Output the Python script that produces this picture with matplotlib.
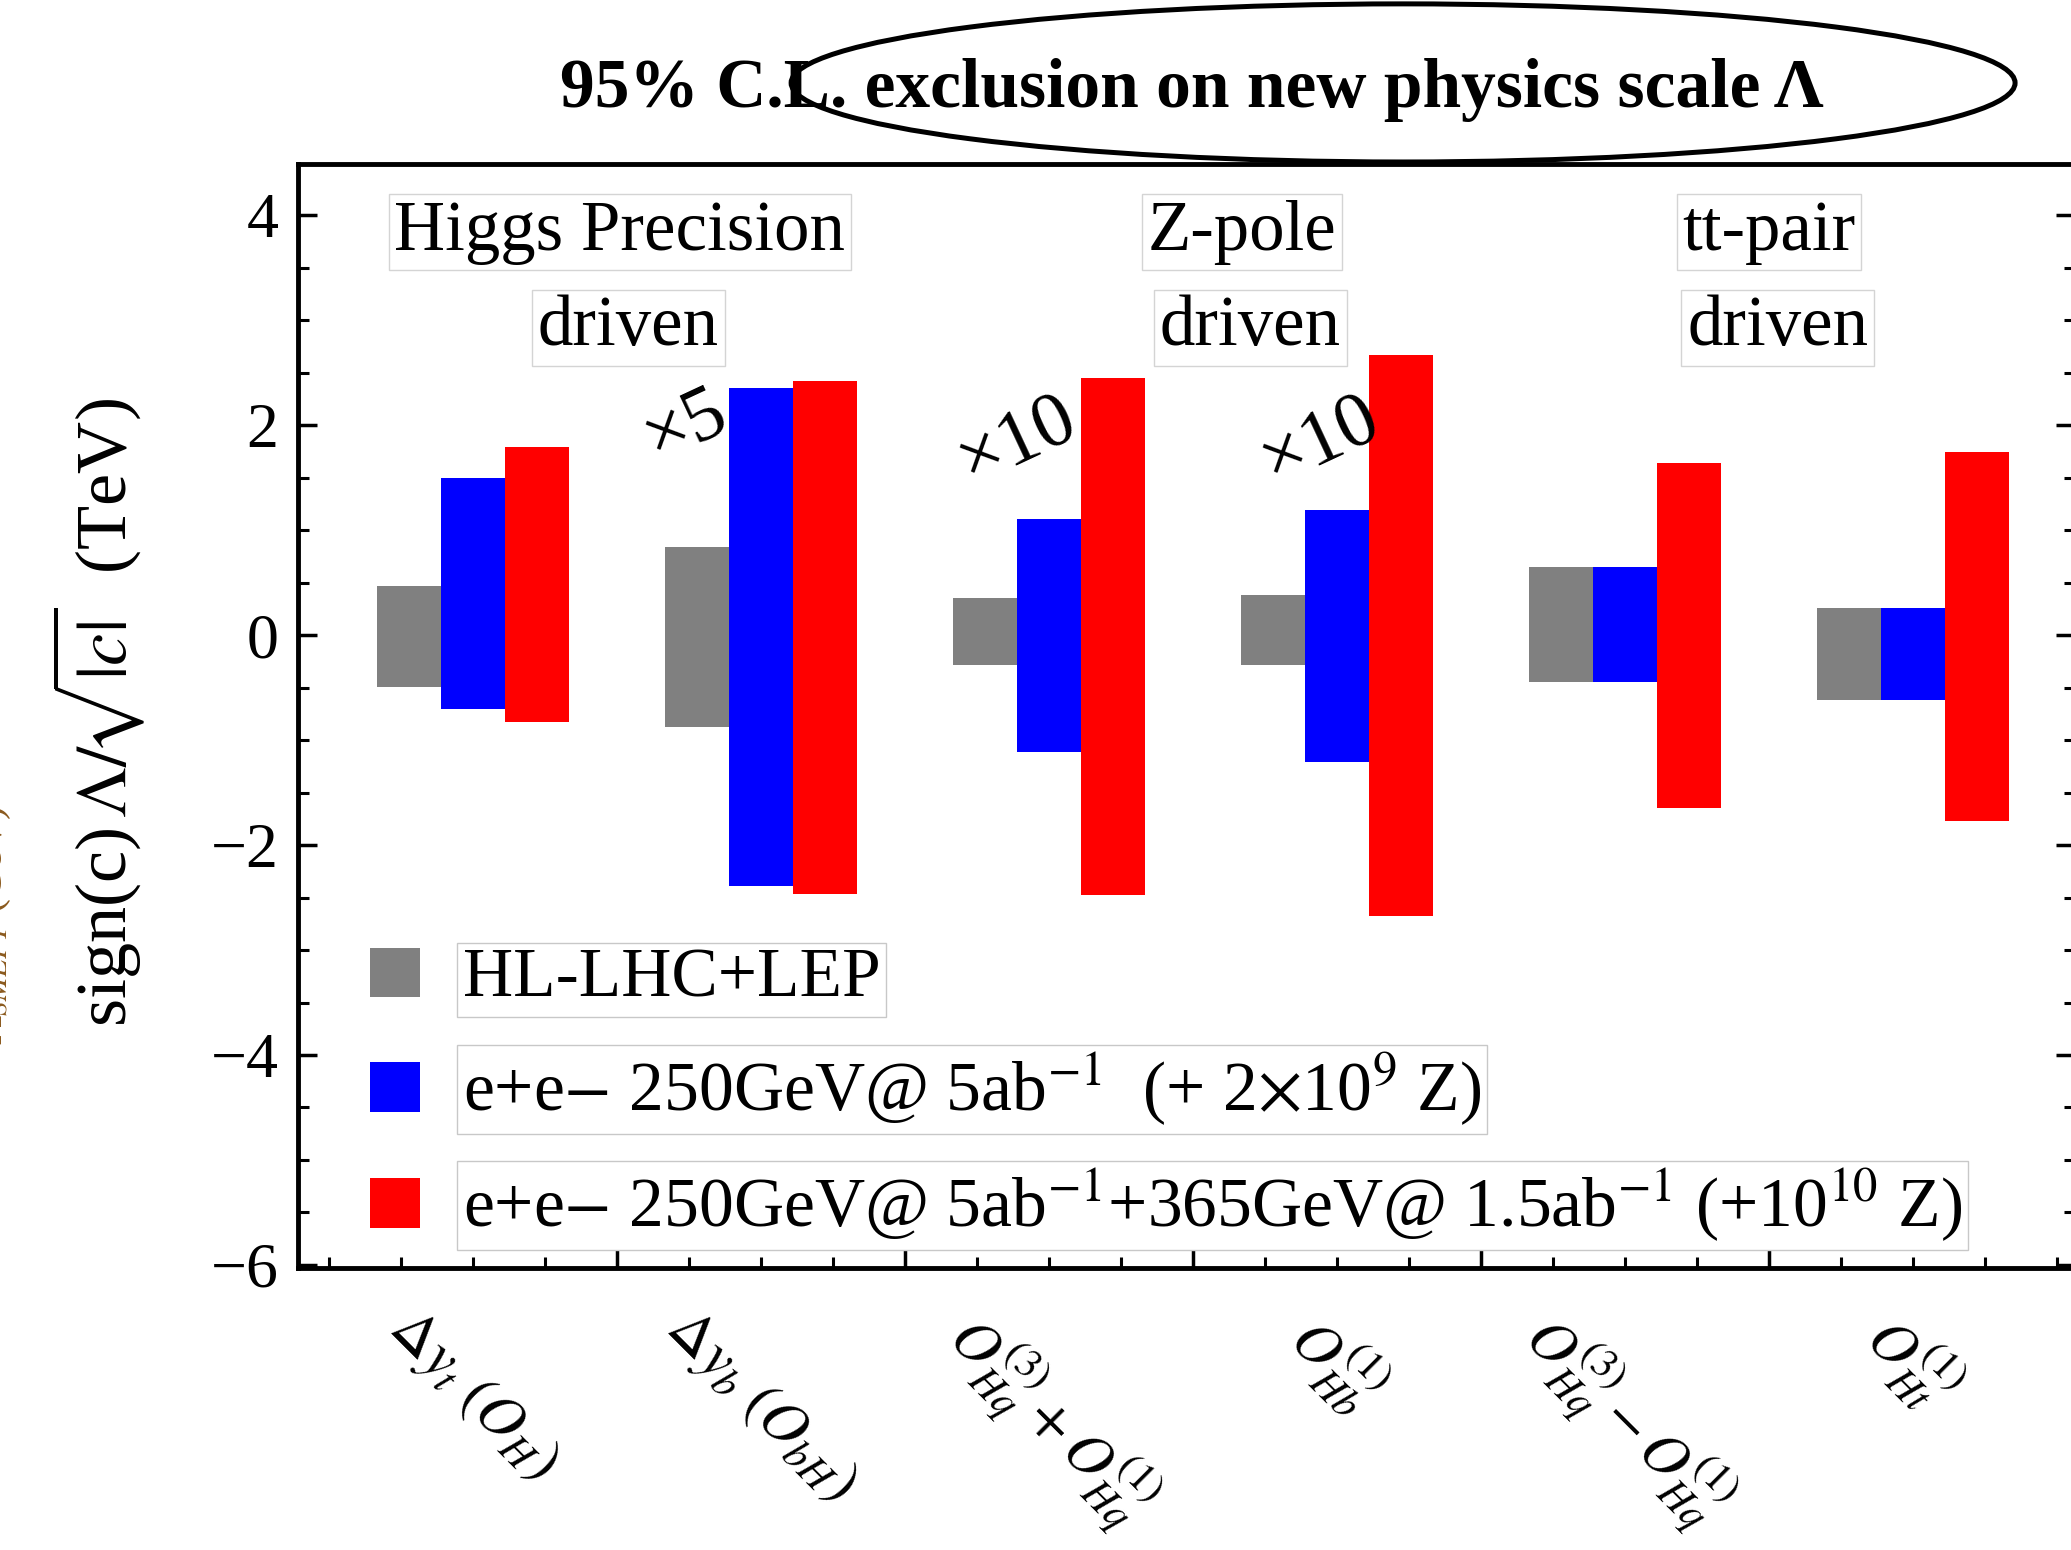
import matplotlib
matplotlib.use("Agg")
import matplotlib.pyplot as plt
from matplotlib.patches import Ellipse
from matplotlib.ticker import MultipleLocator, FixedLocator
import numpy as np

plt.rcParams['font.family'] = ['Liberation Serif', 'DejaVu Serif']
plt.rcParams['mathtext.fontset'] = 'stix'

# operators on the x axis
labels = [r'$\Delta y_t\ (O_H)$',
          r'$\Delta y_b\ (O_{bH})$',
          r'$O_{Hq}^{(3)}+O_{Hq}^{(1)}$',
          r'$O_{Hb}^{(1)}$',
          r'$O_{Hq}^{(3)}-O_{Hq}^{(1)}$',
          r'$O_{Ht}^{(1)}$']

# upper / lower reach of each scenario (TeV)
hl_up = [0.47, 0.84, 0.35, 0.38, 0.65, 0.26]
hl_lo = [-0.49, -0.87, -0.28, -0.28, -0.45, -0.62]
ee250_up = [1.50, 2.36, 1.11, 1.19, 0.65, 0.26]
ee250_lo = [-0.70, -2.39, -1.11, -1.21, -0.45, -0.62]
ee365_up = [1.79, 2.42, 2.45, 2.67, 1.64, 1.75]
ee365_lo = [-0.83, -2.47, -2.48, -2.68, -1.65, -1.77]

series_names = ['HL-LHC+LEP',
                r'e+e$-$ 250GeV@ 5ab$^{-1}$  (+ 2$\times$10$^{9}$ Z)',
                r'e+e$-$ 250GeV@ 5ab$^{-1}$+365GeV@ 1.5ab$^{-1}$ (+10$^{10}$ Z)']
colors = ['#808080', '#0000ff', '#ff0000']

groups = ['Higgs Precision\ndriven', 'Z-pole\ndriven', 'tt-pair\ndriven']
scales = ['×5', '×10', '×10']

fig = plt.figure(figsize=(20.71, 15.5), dpi=100)
ax = fig.add_axes([0.1439, 0.1819, 1.002 - 0.1439, 0.8942 - 0.1819])

x = np.arange(1, len(labels) + 1)
w = 0.222
for off, up, lo, c, name in zip([-w, 0, w],
                                [hl_up, ee250_up, ee365_up],
                                [hl_lo, ee250_lo, ee365_lo],
                                colors, series_names):
    ax.bar(x + off, np.array(up) - np.array(lo), bottom=lo, width=w,
           color=c, linewidth=0, label=name)

ax.set_xlim(0.393, 6.563)
ax.set_ylim(-6.03, 4.49)

for s in ['left', 'bottom', 'top', 'right']:
    ax.spines[s].set_linewidth(3.5)

ax.yaxis.set_major_locator(MultipleLocator(2))
ax.yaxis.set_minor_locator(MultipleLocator(0.5))
ax.xaxis.set_major_locator(FixedLocator(np.arange(1.5, 6.0, 1.0)))
ax.xaxis.set_minor_locator(MultipleLocator(0.25))
ax.tick_params(axis='both', which='major', direction='in', length=14, width=2.5)
ax.tick_params(axis='both', which='minor', direction='in', length=8, width=2.2)
ax.tick_params(axis='y', which='both', right=True, labelsize=46, pad=14)
ax.tick_params(axis='x', which='both', labelbottom=False)

# category labels, rotated under each group
for xi, lab in zip(x, labels):
    ax.text(xi, -6.33, lab, rotation=-45, ha='center', va='top', fontsize=43)

ax.set_ylabel(r'sign(c)$\,\Lambda/\!\sqrt{|c|}$  (TeV)', fontsize=52)
ax.yaxis.set_label_coords(-0.085, 0.503)

# group annotations
for gx, txt in zip([1.51, 3.67, 5.50], groups):
    l1, l2 = txt.split('\n')
    box = dict(boxstyle='square,pad=0.08', facecolor='white', edgecolor='#d4d4d4', linewidth=1)
    ax.text(gx, 3.84, l1, ha='center', va='center', fontsize=51, bbox=box)
    ax.text(gx + 0.03, 2.93, l2, ha='center', va='center', fontsize=51, bbox=box)

for sx, sy, s in zip([1.74, 2.89, 3.945], [2.0, 1.86, 1.86], scales):
    ax.text(sx, sy, s, rotation=25, ha='center', va='center', fontsize=56)

leg = ax.legend(loc='upper left', bbox_to_anchor=(0.0404, 0.29), frameon=False,
                fontsize=50, handlelength=0.72, handleheight=0.72,
                handletextpad=0.62, labelspacing=0.56, borderpad=0, borderaxespad=0)
for t in leg.get_texts():
    t.set_bbox(dict(boxstyle='square,pad=0.08', facecolor='white',
                    edgecolor='#c8c8c8', linewidth=1))

fig.text(0.5755, 0.942, '95% C.L. exclusion on new physics scale Λ',
         ha='center', va='center', fontsize=50, fontweight='bold')
fig.patches.append(Ellipse((0.6775, 0.9465), 0.591, 0.102, transform=fig.transFigure,
                           fill=False, edgecolor='black', linewidth=3.6))

# clipped axis title from a neighbouring panel
fig.text(-0.004, 0.403, r'$\Lambda_{SMEFT}$ (GeV)', rotation=90, ha='center', va='center',
         fontsize=30, color='#8b5a1e')

fig.savefig('out.png', dpi=100)
